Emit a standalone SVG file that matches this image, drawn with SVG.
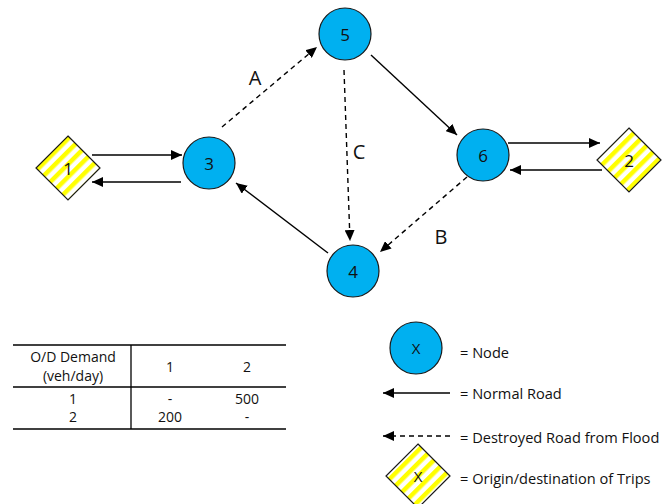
<svg xmlns="http://www.w3.org/2000/svg" width="662" height="504" viewBox="0 0 662 504">
<style>
.node{fill:#00b0f0;stroke:#1a1a1a;stroke-width:1.2}
.od{fill:url(#stripes);stroke:#1a1a1a;stroke-width:1.2}
.lbl{font-family:"Open Sans","Liberation Sans",sans-serif;font-size:17px;fill:#111;text-anchor:middle;dominant-baseline:central}
.edge{stroke:#000;stroke-width:1.4;fill:none;marker-end:url(#ah)}
.dash{stroke-dasharray:5,4}
.elbl{font-family:"Open Sans","Liberation Sans",sans-serif;font-size:20px;fill:#111;text-anchor:middle;dominant-baseline:central}
.leg{font-family:"Open Sans","Liberation Sans",sans-serif;font-size:14.6px;fill:#111;dominant-baseline:central}
.tbl{font-family:"Open Sans","Liberation Sans",sans-serif;font-size:14px;fill:#111;text-anchor:middle;dominant-baseline:central}
.tline{stroke:#000;stroke-width:1.3}
</style>
<defs>
<pattern id="stripes" width="9" height="9" patternUnits="userSpaceOnUse" patternTransform="rotate(-45)">
<rect width="9" height="9" fill="#fff"/>
<rect width="9" height="4.5" fill="#ffff00"/>
</pattern>
<marker id="ah" markerUnits="userSpaceOnUse" markerWidth="12" markerHeight="10" refX="11" refY="5" orient="auto">
<path d="M0,0 L11,5 L0,10 Z" fill="#000"/>
</marker>
</defs>
<g id="connectors">
<line class="edge" x1="92" y1="155" x2="182" y2="155"/>
<line class="edge" x1="181" y1="182" x2="92" y2="182"/>
<line class="edge dash" x1="222" y1="127" x2="317" y2="47"/>
<line class="edge" x1="371" y1="55" x2="457" y2="135"/>
<line class="edge dash" x1="344" y1="70" x2="350" y2="241"/>
<line class="edge dash" x1="467" y1="177" x2="380" y2="252"/>
<line class="edge" x1="328" y1="253" x2="236" y2="183"/>
<line class="edge" x1="508" y1="143" x2="600" y2="143"/>
<line class="edge" x1="602" y1="170" x2="510" y2="170"/>
<text class="elbl" x="255" y="77">A</text>
<text class="elbl" x="359" y="151">C</text>
<text class="elbl" x="441" y="236">B</text>
</g>
<g id="od1"><polygon class="od" points="68,136 100,168 68,200 36,168"/><text class="lbl" x="68" y="168">1</text></g>
<g id="od2"><polygon class="od" points="629,128 661,160 629,192 597,160"/><text class="lbl" x="629" y="160">2</text></g>
<g id="n3"><circle class="node" cx="209" cy="163" r="26"/><text class="lbl" x="209" y="163">3</text></g>
<g id="n4"><circle class="node" cx="353" cy="271" r="26"/><text class="lbl" x="353" y="271">4</text></g>
<g id="n5"><circle class="node" cx="345" cy="34" r="26"/><text class="lbl" x="345" y="34">5</text></g>
<g id="n6"><circle class="node" cx="483" cy="155" r="26"/><text class="lbl" x="483" y="155">6</text></g>
<g id="table">
<line class="tline" x1="13" y1="345" x2="286" y2="345"/>
<line class="tline" x1="13" y1="387" x2="286" y2="387"/>
<line class="tline" x1="13" y1="429" x2="286" y2="429"/>
<line class="tline" x1="131" y1="345" x2="131" y2="429"/>
<text class="tbl" x="73" y="356">O/D Demand</text>
<text class="tbl" x="73" y="375">(veh/day)</text>
<text class="tbl" x="170" y="366">1</text>
<text class="tbl" x="247" y="366">2</text>
<text class="tbl" x="73" y="398">1</text>
<text class="tbl" x="170" y="398">-</text>
<text class="tbl" x="247" y="398">500</text>
<text class="tbl" x="73" y="416">2</text>
<text class="tbl" x="170" y="416">200</text>
<text class="tbl" x="247" y="416">-</text>
</g>
<g id="legend">
<g id="leg-node"><circle class="node" cx="416" cy="348" r="26"/><text class="lbl" x="416" y="348" style="font-size:15px">X</text></g>
<text class="leg" x="460" y="352">= Node</text>
<line class="edge" x1="450" y1="393" x2="383" y2="393"/>
<text class="leg" x="460" y="393">= Normal Road</text>
<line class="edge dash" x1="450" y1="436" x2="383" y2="436"/>
<text class="leg" x="460" y="437">= Destroyed Road from Flood</text>
<g id="leg-od"><polygon class="od" points="418,444 450,476 418,508 386,476"/><text class="lbl" x="418" y="476" style="font-size:15px">X</text></g>
<text class="leg" x="460" y="478">= Origin/destination of Trips</text>
</g>
</svg>
